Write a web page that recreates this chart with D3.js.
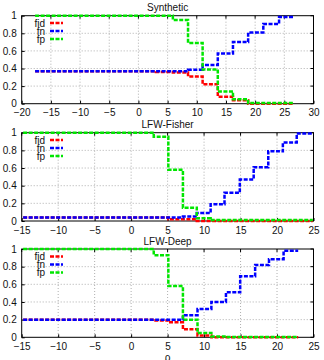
<!DOCTYPE html>
<html><head><meta charset="utf-8">
<script src="https://cdn.jsdelivr.net/npm/d3@7"></script>
<style>
html,body{margin:0;padding:0;background:#fff;}
svg{display:block;font-family:"Liberation Sans",Arial,sans-serif;}
</style></head>
<body><svg id="c" width="324" height="360"></svg>
<script>
// ---- data ----
const seriesNames = ["fid", "fn", "fp"];
const seriesColors = ["#ff0000", "#0000ff", "#00e600"];
const yTicks = [0, 0.2, 0.4, 0.6, 0.8, 1];

// Synthetic
const synTitle = "Synthetic";
const synXDomain = [-20, 30];
const synXTicks = [-20, -15, -10, -5, 0, 5, 10, 15, 20, 25, 30];
const synX   = [-17.7, 3.0, 5.9, 8.5, 11.0, 13.6, 16.2, 18.8, 21.4, 24.1, 26.6];
const synFid = [0.37, 0.36, 0.355, 0.31, 0.22, 0.08, 0.04, 0.0, 0.0, 0.0];
const synFn  = [0.37, 0.37, 0.37, 0.385, 0.44, 0.57, 0.70, 0.81, 0.905, 0.985];
const synFp  = [1.0, 1.0, 0.95, 0.69, 0.39, 0.14, 0.05, 0.008, 0.008, 0.008];

// LFW-Fisher
const fisTitle = "LFW-Fisher";
const fisXDomain = [-15, 25];
const fisXTicks = [-15, -10, -5, 0, 5, 10, 15, 20, 25];
const fisX   = [-14.8, 3.1, 5.1, 7.1, 9.0, 10.9, 12.8, 14.9, 16.8, 18.8, 20.8, 22.7, 24.9];
const fisFid = [0.04, 0.04, 0.02, 0.02, 0.0, 0.0, 0.0, 0.0, 0.0, 0.0, 0.0, 0.0];
const fisFn  = [0.04, 0.04, 0.04, 0.05, 0.09, 0.19, 0.32, 0.47, 0.61, 0.79, 0.89, 0.99];
const fisFp  = [1.0, 0.955, 0.58, 0.15, 0.03, 0.01, 0.01, 0.01, 0.01, 0.01, 0.01, 0.01];

// LFW-Deep
const deeTitle = "LFW-Deep";
const deeXDomain = [-15, 25];
const deeXTicks = [-15, -10, -5, 0, 5, 10, 15, 20, 25];
const deeX   = [-14.8, 3.1, 5.1, 7.1, 9.1, 11.0, 13.0, 14.95, 17.0, 18.9, 20.9, 22.9];
const deeFid = [0.20, 0.19, 0.17, 0.09, 0.02, 0.0, 0.0, 0.0, 0.0, 0.0, 0.0];
const deeFn  = [0.20, 0.20, 0.20, 0.25, 0.32, 0.40, 0.51, 0.69, 0.82, 0.885, 0.98];
const deeFp  = [1.0, 0.93, 0.58, 0.20, 0.05, 0.01, 0.003, 0.003, 0.003, 0.003, 0.003];

const panels = [
  {title: synTitle, dom: synXDomain, ticks: synXTicks, x: synX, ys: [synFid, synFn, synFp], top: 15.7, bot: 103.7, legY: 23},
  {title: fisTitle, dom: fisXDomain, ticks: fisXTicks, x: fisX, ys: [fisFid, fisFn, fisFp], top: 132.7, bot: 221, legY: 140},
  {title: deeTitle, dom: deeXDomain, ticks: deeXTicks, x: deeX, ys: [deeFid, deeFn, deeFp], top: 249, bot: 337.3, legY: 256.5}
];

const svg = d3.select("#c");
const L = 21.7, R = 313.5;

panels.forEach(p => {
  const g = svg.append("g");
  const x = d3.scaleLinear().domain(p.dom).range([L, R]);
  const y = d3.scaleLinear().domain([0, 1]).range([p.bot, p.top]);

  // grid
  g.append("g").selectAll("line").data(p.ticks.slice(1, -1)).join("line")
    .attr("x1", d => x(d)).attr("x2", d => x(d)).attr("y1", p.top).attr("y2", p.bot)
    .attr("stroke", "#9a9a9a").attr("stroke-width", 0.8).attr("stroke-dasharray", "1,2");
  g.append("g").selectAll("line").data(yTicks.slice(1, -1)).join("line")
    .attr("x1", L).attr("x2", R).attr("y1", d => y(d)).attr("y2", d => y(d))
    .attr("stroke", "#9a9a9a").attr("stroke-width", 0.8).attr("stroke-dasharray", "1,2");

  // axes
  const xa = g.append("g").attr("transform", `translate(0,${p.bot})`)
    .call(d3.axisBottom(x).tickValues(p.ticks).tickFormat(d3.format("d")).tickSizeInner(-3).tickSizeOuter(0).tickPadding(6));
  const ya = g.append("g").attr("transform", `translate(${L},0)`)
    .call(d3.axisLeft(y).tickValues(yTicks).tickFormat(d => d === 0 || d === 1 ? d3.format("d")(d) : d3.format(".1f")(d)).tickSizeInner(-3).tickSizeOuter(0).tickPadding(5));
  [xa, ya].forEach(a => {
    a.select(".domain").remove();
    a.selectAll("text").attr("font-size", 10).attr("fill", "#111").attr("font-family", "Liberation Sans, Arial, sans-serif");
    a.selectAll("line").attr("stroke", "#000");
  });
  xa.selectAll("text").attr("dy", "0.75em").attr("y", 5);
  // mirrored ticks
  g.append("g").selectAll("line").data(p.ticks).join("line")
    .attr("x1", d => x(d)).attr("x2", d => x(d)).attr("y1", p.top).attr("y2", p.top + 3).attr("stroke", "#000");
  g.append("g").selectAll("line").data(yTicks).join("line")
    .attr("x1", R).attr("x2", R - 3).attr("y1", d => y(d)).attr("y2", d => y(d)).attr("stroke", "#000");

  // frame
  g.append("rect").attr("x", L).attr("y", p.top).attr("width", R - L).attr("height", p.bot - p.top)
    .attr("fill", "none").attr("stroke", "#000").attr("stroke-width", 1);

  // title
  g.append("text").attr("x", (L + R) / 2).attr("y", p.top - 4.5).attr("text-anchor", "middle")
    .attr("font-size", 10).attr("fill", "#111").text(p.title);

  // series
  const line = d3.line().x(d => x(d[0])).y(d => y(d[1])).curve(d3.curveStepAfter);
  p.ys.forEach((vals, i) => {
    const pts = vals.map((v, k) => [p.x[k], v]);
    pts.push([p.x[p.x.length - 1], vals[vals.length - 1]]);
    g.append("path").datum(pts).attr("d", line)
      .attr("fill", "none").attr("stroke", seriesColors[i]).attr("stroke-width", 2.5)
      .attr("stroke-dasharray", "4,1.5");
  });

  // legend
  seriesNames.forEach((n, i) => {
    const ly = p.legY + i * 8;
    g.append("text").attr("x", 45).attr("y", ly).attr("dy", "0.35em").attr("text-anchor", "end")
      .attr("font-size", 10).attr("fill", "#111").text(n);
    g.append("line").attr("x1", 50).attr("x2", 63).attr("y1", ly).attr("y2", ly)
      .attr("stroke", seriesColors[i]).attr("stroke-width", 2.5).attr("stroke-dasharray", "4,1.5");
  });
});

// x label
svg.append("text").attr("x", (L + R) / 2).attr("y", 361).attr("text-anchor", "middle")
  .attr("font-size", 10).attr("fill", "#111").text("ρ");
</script>
</body></html>
